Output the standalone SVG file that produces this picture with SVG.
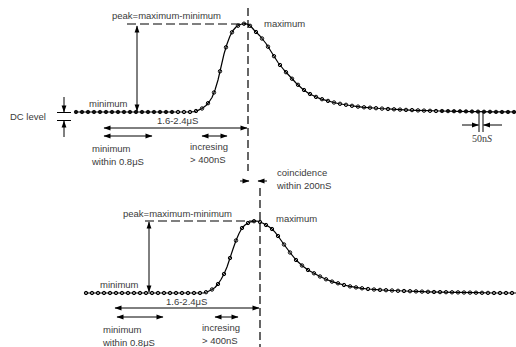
<svg xmlns="http://www.w3.org/2000/svg" width="516" height="347" viewBox="0 0 516 347">
<style>
text{font-family:"Liberation Sans",Arial,sans-serif;font-size:9.5px;fill:#3a3a3a}
.serif{font-family:"Liberation Serif","Times New Roman",serif;font-size:10px}
.ln{stroke:#000;stroke-width:1;fill:none}
.da{stroke:#000;stroke-width:1.2;fill:none;stroke-dasharray:8 4}
.dh{stroke:#000;stroke-width:1.2;fill:none;stroke-dasharray:9 4}
.ar{stroke:#000;stroke-width:1;fill:none;marker-end:url(#ah)}
.ar2{stroke:#000;stroke-width:1;fill:none;marker-start:url(#ah);marker-end:url(#ah)}
.cv{stroke:#000;stroke-width:1.2;fill:none;stroke-linejoin:round}
.f circle{fill:#111;stroke:#000;stroke-width:0.8}
.o circle{fill:none;stroke:#000;stroke-width:1}
</style>
<defs>
<marker id="ah" markerUnits="userSpaceOnUse" markerWidth="8" markerHeight="6" refX="7" refY="3" orient="auto-start-reverse" viewBox="0 0 8 6"><path d="M0.5,0.6 L7.5,3 L0.5,5.4 Z" fill="#000"/></marker>
</defs>

<g id="top-pulse">
<path class="cv" d="M75,112 L190,112 194,111.6 198,110.4 202,108.5 206,105.5 209,102 212,97.5 215,90 218,80 221,67 224,54 227,44 230,36 233,30.5 236,27 239,25 242,24 245,23.6 248,24.3 251,26.5 254,30 260,36 266,43.5 272,53 278,62.5 284,70 290,76.5 296,83 302,88.5 308,93 314,96 320,98.6 326,100.3 332,102 338,103.5 344,104.5 350,105.5 356,106.4 362,107.1 368,107.6 374,108 380,108.5 392,109.2 404,109.8 416,110.3 428,110.7 440,111 458,111.3 476,111.6 494,111.9 516,112"/>
<g class="f" transform="translate(0,112)">
<circle cx="76" cy="0" r="1.7"/><circle cx="82" cy="0" r="1.7"/><circle cx="88" cy="0" r="1.7"/><circle cx="94" cy="0" r="1.7"/><circle cx="100" cy="0" r="1.7"/><circle cx="106" cy="0" r="1.7"/><circle cx="112" cy="0" r="1.7"/><circle cx="118" cy="0" r="1.7"/><circle cx="124" cy="0" r="1.7"/><circle cx="130" cy="0" r="1.7"/><circle cx="136" cy="0" r="1.7"/><circle cx="142" cy="0" r="1.7"/><circle cx="148" cy="0" r="1.7"/><circle cx="154" cy="0" r="1.7"/><circle cx="160" cy="0" r="1.7"/><circle cx="166" cy="0" r="1.7"/><circle cx="172" cy="0" r="1.7"/>
</g>
<g class="o">
<circle cx="178" cy="112" r="1.7"/><circle cx="184" cy="112" r="1.7"/><circle cx="190" cy="112" r="1.7"/>
<circle cx="196" cy="111" r="1.7"/><circle cx="202" cy="108.5" r="1.7"/><circle cx="208" cy="103.2" r="1.7"/><circle cx="214" cy="92.5" r="1.7"/><circle cx="220" cy="71.3" r="1.7"/><circle cx="226" cy="47.3" r="1.7"/><circle cx="232" cy="32.3" r="1.7"/><circle cx="238" cy="25.7" r="1.7"/><circle cx="244" cy="23.7" r="1.7"/><circle cx="250" cy="25.8" r="1.7"/><circle cx="256" cy="32" r="1.7"/><circle cx="262" cy="38.5" r="1.7"/><circle cx="268" cy="46.7" r="1.7"/><circle cx="274" cy="56.2" r="1.7"/><circle cx="280" cy="65" r="1.7"/><circle cx="286" cy="72.2" r="1.7"/><circle cx="292" cy="78.7" r="1.7"/><circle cx="298" cy="84.8" r="1.7"/><circle cx="304" cy="90" r="1.7"/><circle cx="310" cy="94" r="1.7"/><circle cx="316" cy="96.9" r="1.7"/><circle cx="322" cy="99.2" r="1.7"/><circle cx="328" cy="100.9" r="1.7"/><circle cx="334" cy="102.5" r="1.7"/><circle cx="340" cy="103.8" r="1.7"/><circle cx="346" cy="104.8" r="1.7"/><circle cx="352" cy="105.8" r="1.7"/><circle cx="358" cy="106.6" r="1.7"/><circle cx="364" cy="107.3" r="1.7"/><circle cx="370" cy="107.7" r="1.7"/><circle cx="376" cy="108.2" r="1.7"/><circle cx="382" cy="108.6" r="1.7"/><circle cx="388" cy="109" r="1.7"/><circle cx="394" cy="109.3" r="1.7"/><circle cx="400" cy="109.6" r="1.7"/><circle cx="406" cy="109.9" r="1.7"/><circle cx="412" cy="110.1" r="1.7"/><circle cx="418" cy="110.4" r="1.7"/><circle cx="424" cy="110.6" r="1.7"/><circle cx="430" cy="110.8" r="1.7"/><circle cx="436" cy="111" r="1.7"/>
</g>
<g class="f">
<circle cx="442" cy="111" r="1.7"/><circle cx="448" cy="111.1" r="1.7"/><circle cx="454" cy="111.2" r="1.7"/><circle cx="460" cy="111.3" r="1.7"/><circle cx="466" cy="111.4" r="1.7"/><circle cx="472" cy="111.5" r="1.7"/><circle cx="478" cy="111.6" r="1.7"/><circle cx="484" cy="111.7" r="1.7"/><circle cx="490" cy="111.8" r="1.7"/><circle cx="496" cy="111.9" r="1.7"/><circle cx="502" cy="112" r="1.7"/><circle cx="508" cy="112" r="1.7"/><circle cx="514" cy="112" r="1.7"/>
</g>
</g>

<g id="bottom-pulse">
<path class="cv" d="M85,293 L200,293 204,292.8 208,291.5 212,289.5 215,287.5 218,284 221,279.5 224,274 227,267 230,258 233,249 236,240.5 239,233.5 242,228 245,225 248,223 251,221.8 254,221.2 257,221 260,222 263,223.3 266,225 269,226.8 272,229 275,232.2 278,236 284,244.5 290,252.5 296,260 302,265.5 308,270 314,273.3 320,276.5 326,279.3 332,281.6 338,283.3 344,285 350,286.4 356,287.4 362,288.3 368,289 380,289.9 392,290.5 404,291 416,291.4 428,291.8 440,292.1 458,292.4 476,292.7 494,293 516,293"/>
<g class="o">
<circle cx="86" cy="293" r="1.7"/><circle cx="92" cy="293" r="1.7"/><circle cx="98" cy="293" r="1.7"/><circle cx="104" cy="293" r="1.7"/><circle cx="110" cy="293" r="1.7"/><circle cx="116" cy="293" r="1.7"/><circle cx="122" cy="293" r="1.7"/><circle cx="128" cy="293" r="1.7"/><circle cx="134" cy="293" r="1.7"/><circle cx="140" cy="293" r="1.7"/><circle cx="146" cy="293" r="1.7"/><circle cx="152" cy="293" r="1.7"/><circle cx="158" cy="293" r="1.7"/><circle cx="164" cy="293" r="1.7"/><circle cx="170" cy="293" r="1.7"/><circle cx="176" cy="293" r="1.7"/><circle cx="182" cy="293" r="1.7"/><circle cx="188" cy="293" r="1.7"/><circle cx="194" cy="293" r="1.7"/><circle cx="200" cy="293" r="1.7"/>
<circle cx="206" cy="292.2" r="1.7"/><circle cx="212" cy="289.5" r="1.7"/><circle cx="218" cy="284" r="1.7"/><circle cx="224" cy="274" r="1.7"/><circle cx="230" cy="258" r="1.7"/><circle cx="236" cy="240.5" r="1.7"/><circle cx="242" cy="228" r="1.7"/><circle cx="248" cy="223" r="1.7"/><circle cx="254" cy="221.2" r="1.7"/><circle cx="260" cy="222" r="1.7"/><circle cx="266" cy="225" r="1.7"/><circle cx="272" cy="229" r="1.7"/><circle cx="278" cy="236" r="1.7"/><circle cx="284" cy="244.5" r="1.7"/><circle cx="290" cy="252.5" r="1.7"/><circle cx="296" cy="260" r="1.7"/><circle cx="302" cy="265.5" r="1.7"/><circle cx="308" cy="270" r="1.7"/><circle cx="314" cy="273.3" r="1.7"/><circle cx="320" cy="276.5" r="1.7"/><circle cx="326" cy="279.3" r="1.7"/><circle cx="332" cy="281.6" r="1.7"/><circle cx="338" cy="283.3" r="1.7"/><circle cx="344" cy="285" r="1.7"/><circle cx="350" cy="286.4" r="1.7"/><circle cx="356" cy="287.4" r="1.7"/><circle cx="362" cy="288.3" r="1.7"/><circle cx="368" cy="289" r="1.7"/><circle cx="374" cy="289.5" r="1.7"/><circle cx="380" cy="289.9" r="1.7"/><circle cx="386" cy="290.2" r="1.7"/><circle cx="392" cy="290.5" r="1.7"/><circle cx="398" cy="290.8" r="1.7"/><circle cx="404" cy="291" r="1.7"/><circle cx="410" cy="291.2" r="1.7"/><circle cx="416" cy="291.4" r="1.7"/><circle cx="422" cy="291.6" r="1.7"/><circle cx="428" cy="291.8" r="1.7"/><circle cx="434" cy="292" r="1.7"/><circle cx="440" cy="292.1" r="1.7"/><circle cx="446" cy="292.2" r="1.7"/><circle cx="452" cy="292.3" r="1.7"/><circle cx="458" cy="292.4" r="1.7"/><circle cx="464" cy="292.5" r="1.7"/><circle cx="470" cy="292.6" r="1.7"/><circle cx="476" cy="292.7" r="1.7"/><circle cx="482" cy="292.8" r="1.7"/><circle cx="488" cy="292.9" r="1.7"/><circle cx="494" cy="293" r="1.7"/><circle cx="500" cy="293" r="1.7"/><circle cx="506" cy="293" r="1.7"/><circle cx="512" cy="293" r="1.7"/>
</g>
</g>

<g id="connectors">
<line class="da" x1="248" y1="8" x2="248" y2="171"/>
<line class="dh" x1="127" y1="24" x2="246" y2="24"/>
<line class="ar2" x1="137" y1="26" x2="137" y2="111"/>
<line class="ln" x1="57" y1="112.5" x2="71" y2="112.5"/>
<line class="ln" x1="57" y1="120.5" x2="71" y2="120.5"/>
<line class="ar" x1="64" y1="97" x2="64" y2="112"/>
<line class="ar" x1="64" y1="137" x2="64" y2="121"/>
<line class="ar2" x1="104" y1="128" x2="247" y2="128"/>
<line class="ar2" x1="104" y1="136" x2="152" y2="136"/>
<line class="ar2" x1="202" y1="136" x2="227" y2="136"/>
<line class="ln" x1="479" y1="113" x2="479" y2="132"/>
<line class="ln" x1="483" y1="113" x2="483" y2="132"/>
<line class="ar" x1="462" y1="125" x2="478.5" y2="125"/>
<line class="ar" x1="502" y1="125" x2="483.5" y2="125"/>
<line class="ar" x1="240" y1="181" x2="249" y2="181"/>
<line class="ar" x1="267" y1="181" x2="258" y2="181"/>
<line class="da" x1="260" y1="188" x2="260" y2="347"/>
<line class="dh" x1="145" y1="221" x2="256" y2="221"/>
<line class="ar2" x1="149" y1="222" x2="149" y2="292"/>
<line class="ar2" x1="115" y1="308" x2="259" y2="308"/>
<line class="ar2" x1="117" y1="317" x2="163" y2="317"/>
<line class="ar2" x1="215" y1="317" x2="238" y2="317"/>
</g>

<g id="labels-top">
<text x="112" y="19">peak=maximum-minimum</text>
<text x="264" y="27">maximum</text>
<text x="89" y="107">minimum</text>
<text x="10" y="120">DC level</text>
<text x="157" y="124">1.6-2.4μS</text>
<text x="92" y="152">minimum</text>
<text x="92" y="165">within 0.8μS</text>
<text x="190" y="150">incresing</text>
<text x="190" y="163">&gt; 400nS</text>
<text class="serif" x="472" y="142">50n<tspan font-style="italic">S</tspan></text>
</g>
<g id="labels-coincidence">
<text x="277" y="176">coincidence</text>
<text x="277" y="189">within 200nS</text>
</g>
<g id="labels-bottom">
<text x="123" y="217">peak=maximum-minimum</text>
<text x="276" y="222">maximum</text>
<text x="100" y="288">minimum</text>
<text x="166" y="305">1.6-2.4μS</text>
<text x="103" y="333">minimum</text>
<text x="103" y="346">within 0.8μS</text>
<text x="202" y="331">incresing</text>
<text x="202" y="344">&gt; 400nS</text>
</g>
</svg>
